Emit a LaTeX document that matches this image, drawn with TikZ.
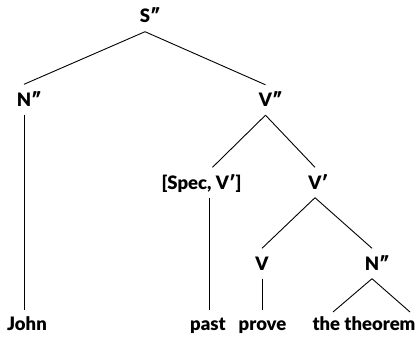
\documentclass[tikz,border=0pt]{standalone}
\usepackage{fontspec}
\setmainfont{Lato}[UprightFont=* Black]
\begin{document}
\begin{tikzpicture}[x=1pt,y=-1pt,
  cat/.style={font=\fontsize{18.5}{22}\selectfont, inner sep=0pt, text height=13pt, text depth=0pt, minimum height=30pt},
  leaf/.style={font=\fontsize{18.5}{22}\selectfont, inner sep=0pt, text height=13pt, text depth=0pt, minimum height=28pt},
  branch/.style={draw=black, line width=0.9pt}]
\useasboundingbox (0,0) rectangle (417,337);
\node[cat] (S) at (145,16.5) {S\rlap{″}};
\node[cat] (N1) at (24,99.5) {N\rlap{″}};
\node[cat] (V2) at (265.5,100) {V\rlap{″}};
\node[cat] (Spec) at (201.5,182.5) {[Spec, V′]};
\node[cat] (V1) at (315,182.5) {V\rlap{′}};
\node[cat] (V) at (262,263.5) {V};
\node[cat] (N2) at (372,263.5) {N\rlap{″}};
\node[leaf] (John) at (27,324) {John};
\node[leaf] (past) at (208,324) {past};
\node[leaf] (prove) at (262.5,324) {prove};
\node[leaf] (thm) at (364,324) {the theorem};
\coordinate (tl) at (333,312);
\coordinate (tr) at (410,312);
\draw[branch] (S.south) -- (N1.north);
\draw[branch] (S.south) -- (V2.north);
\draw[branch] (N1.south) -- (N1.south |- John.north);
\draw[branch] (V2.south) -- ([xshift=11pt]Spec.north);
\draw[branch] (V2.south) -- (V1.north);
\draw[branch] ([xshift=8pt]Spec.south) -- ([xshift=8pt]Spec.south |- past.north);
\draw[branch] (V1.south) -- (V.north);
\draw[branch] (V1.south) -- (N2.north);
\draw[branch] (V.south) -- (V.south |- prove.north);
\draw[branch] (N2.south) -- (tl);
\draw[branch] (N2.south) -- (tr);
\end{tikzpicture}
\end{document}
